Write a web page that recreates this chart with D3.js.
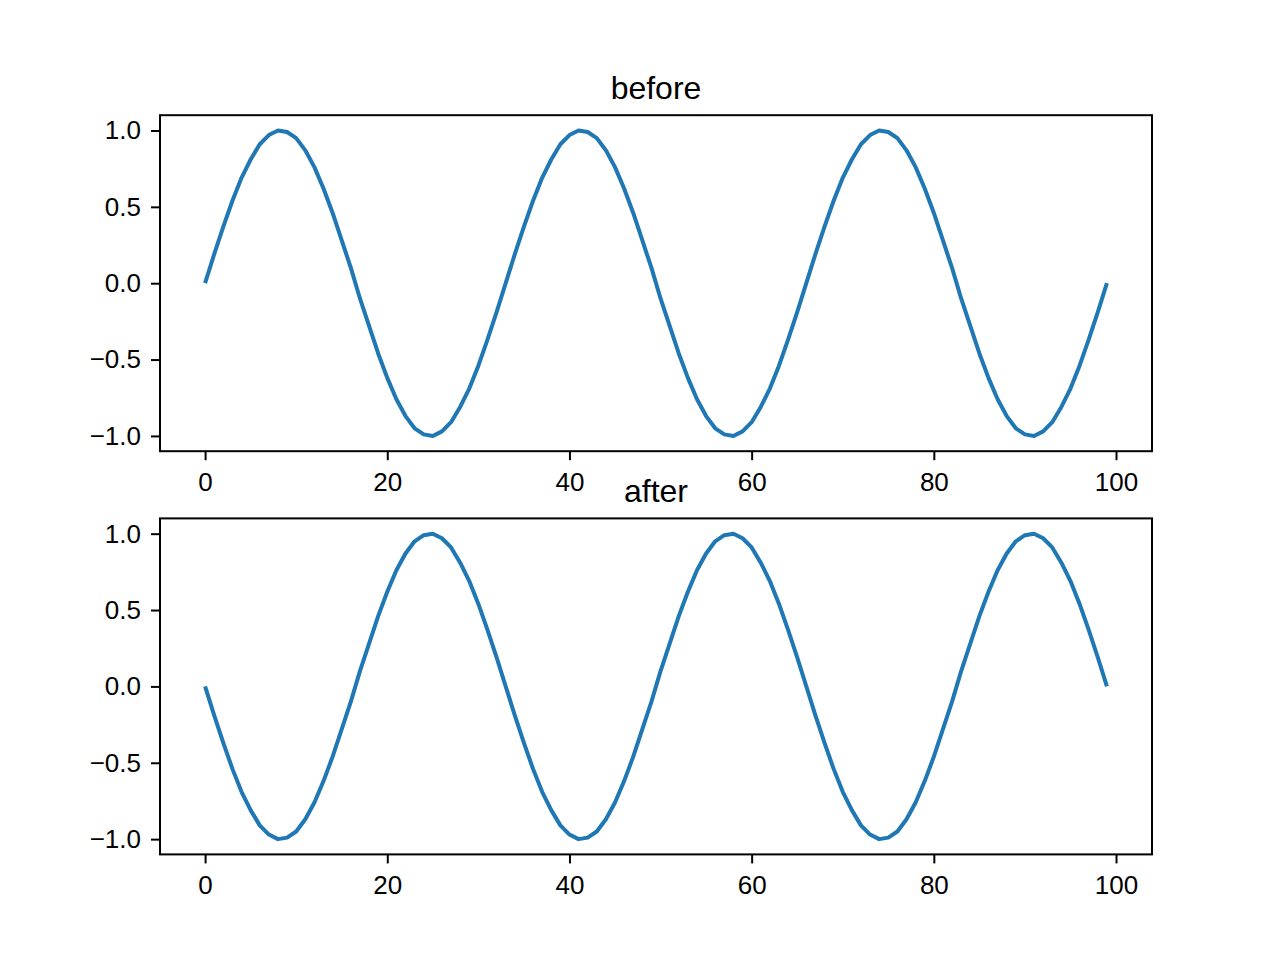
<!DOCTYPE html>
<html>
<head>
<meta charset="utf-8">
<script src="https://cdn.jsdelivr.net/npm/d3@7"></script>
<style>
  body { margin: 0; background: #fff; }
  svg { display: block; }
  text { font-family: "Liberation Sans", Arial, Helvetica, sans-serif; fill: #000; }
</style>
</head>
<body>
<div id="chart"></div>
<script>
const width = 1280;
const height = 960;

const beforeValues = [
  0.00, 0.19, 0.37, 0.54, 0.69, 0.81, 0.91, 0.97, 1.00, 0.99,
  0.95, 0.87, 0.76, 0.62, 0.46, 0.28, 0.10, -0.10, -0.28, -0.46,
  -0.62, -0.76, -0.87, -0.95, -0.99, -1.00, -0.97, -0.91, -0.81, -0.69,
  -0.54, -0.37, -0.19, 0.00, 0.19, 0.37, 0.54, 0.69, 0.81, 0.91,
  0.97, 1.00, 0.99, 0.95, 0.87, 0.76, 0.62, 0.46, 0.28, 0.10,
  -0.10, -0.28, -0.46, -0.62, -0.76, -0.87, -0.95, -0.99, -1.00, -0.97,
  -0.91, -0.81, -0.69, -0.54, -0.37, -0.19, 0.00, 0.19, 0.37, 0.54,
  0.69, 0.81, 0.91, 0.97, 1.00, 0.99, 0.95, 0.87, 0.76, 0.62,
  0.46, 0.28, 0.10, -0.10, -0.28, -0.46, -0.62, -0.76, -0.87, -0.95,
  -0.99, -1.00, -0.97, -0.91, -0.81, -0.69, -0.54, -0.37, -0.19, 0.00
];

const afterValues = [
  0.00, -0.19, -0.37, -0.54, -0.69, -0.81, -0.91, -0.97, -1.00, -0.99,
  -0.95, -0.87, -0.76, -0.62, -0.46, -0.28, -0.10, 0.10, 0.28, 0.46,
  0.62, 0.76, 0.87, 0.95, 0.99, 1.00, 0.97, 0.91, 0.81, 0.69,
  0.54, 0.37, 0.19, 0.00, -0.19, -0.37, -0.54, -0.69, -0.81, -0.91,
  -0.97, -1.00, -0.99, -0.95, -0.87, -0.76, -0.62, -0.46, -0.28, -0.10,
  0.10, 0.28, 0.46, 0.62, 0.76, 0.87, 0.95, 0.99, 1.00, 0.97,
  0.91, 0.81, 0.69, 0.54, 0.37, 0.19, 0.00, -0.19, -0.37, -0.54,
  -0.69, -0.81, -0.91, -0.97, -1.00, -0.99, -0.95, -0.87, -0.76, -0.62,
  -0.46, -0.28, -0.10, 0.10, 0.28, 0.46, 0.62, 0.76, 0.87, 0.95,
  0.99, 1.00, 0.97, 0.91, 0.81, 0.69, 0.54, 0.37, 0.19, 0.00
];

const panelTitles = ["before", "after"];
const xTicks = [0, 20, 40, 60, 80, 100];
const yTicks = [-1.0, -0.5, 0.0, 0.5, 1.0];

const svg = d3.select("#chart")
  .append("svg")
  .attr("width", width)
  .attr("height", height);

// matplotlib-ish subplot geometry
const left = 160, right = 1152;
const panelTop = [115.2, 518.4];
const panelH = 336;

const x = d3.scaleLinear().domain([-4.95, 103.95]).range([left, right]);

const fmtY = d => d3.format(".1f")(d).replace("-", "\u2212");

[beforeValues, afterValues].forEach((vals, i) => {
  const top = panelTop[i];
  const y = d3.scaleLinear().domain([-1.1, 1.1]).range([top + panelH, top]);
  const g = svg.append("g");

  const line = d3.line()
    .x((d, j) => x(j))
    .y(d => y(d));

  g.append("path")
    .datum(vals)
    .attr("fill", "none")
    .attr("stroke", "#1f77b4")
    .attr("stroke-width", 4)
    .attr("stroke-linejoin", "round")
    .attr("d", line);

  const xAxis = g.append("g")
    .attr("transform", `translate(0,${top + panelH})`)
    .call(d3.axisBottom(x).tickValues(xTicks).tickSize(9).tickPadding(12).tickFormat(d3.format("d")));

  const yAxis = g.append("g")
    .attr("transform", `translate(${left},0)`)
    .call(d3.axisLeft(y).tickValues(yTicks).tickSize(9).tickPadding(10).tickFormat(fmtY));

  [xAxis, yAxis].forEach(a => {
    a.select(".domain").remove();
    a.selectAll(".tick line").attr("stroke", "#000").attr("stroke-width", 2);
    a.selectAll(".tick text").style("font-size", "26px").attr("fill", "#000");
  });

  g.append("rect")
    .attr("x", left)
    .attr("y", top)
    .attr("width", right - left)
    .attr("height", panelH)
    .attr("fill", "none")
    .attr("stroke", "#000")
    .attr("stroke-width", 2);

  g.append("text")
    .attr("x", (left + right) / 2)
    .attr("y", top - 16)
    .attr("text-anchor", "middle")
    .style("font-size", "32px")
    .text(panelTitles[i]);
});
</script>
</body>
</html>
